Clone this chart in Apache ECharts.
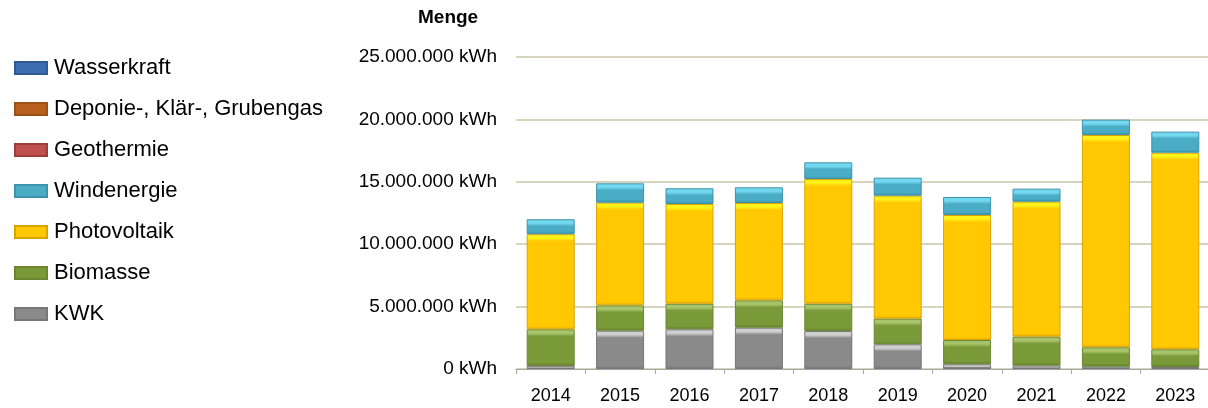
<!DOCTYPE html>
<html>
<head>
<meta charset="utf-8">
<script src="https://cdn.jsdelivr.net/npm/echarts@6/dist/echarts.min.js"></script>
<style>
  html, body { margin: 0; padding: 0; background: #fff; }
  #chartContainer { width: 1208px; height: 408px; }
</style>
</head>
<body>
<div id="chartContainer"></div>
<script>
// years on the x axis
var years = ['2014', '2015', '2016', '2017', '2018', '2019', '2020', '2021', '2022', '2023'];

// amounts per source in kWh
var kwk = [250000, 3070000, 3180000, 3310000, 3040000, 1980000, 380000, 270000, 180000, 160000];
var biomasse = [2930000, 2030000, 2050000, 2190000, 2190000, 2050000, 1940000, 2320000, 1560000, 1420000];
var photovoltaik = [7620000, 8230000, 7990000, 7800000, 9990000, 9860000, 10020000, 10820000, 17010000, 15750000];
var windenergie = [1200000, 1550000, 1260000, 1260000, 1340000, 1440000, 1440000, 1040000, 1230000, 1690000];
var geothermie = [0, 0, 0, 0, 0, 0, 0, 0, 0, 0];
var deponie = [0, 0, 0, 0, 0, 0, 0, 0, 0, 0];
var wasserkraft = [0, 0, 0, 0, 0, 0, 0, 0, 0, 0];

// legend order top to bottom
var legendOrder = ['Wasserkraft', 'Deponie-, Klär-, Grubengas', 'Geothermie', 'Windenergie', 'Photovoltaik', 'Biomasse', 'KWK'];

var FONT = 'Liberation Sans, Arial, sans-serif';
var Y_MAX = 25000000;
var PLOT_H = 312;

// bevel look: light band (about 5px) on top, main colour, darker at bottom
function bevel(light, main, dark, value) {
    var px = Math.max(value / Y_MAX * PLOT_H, 1);
    var band = Math.min(4 / px, 0.45);
    var fade = Math.min(7 / px, 0.6);
    var bottom = Math.max(1 - 3 / px, fade);
    return {
        type: 'linear', x: 0, y: 0, x2: 0, y2: 1,
        colorStops: [
            { offset: 0, color: light },
            { offset: band, color: light },
            { offset: fade, color: main },
            { offset: bottom, color: main },
            { offset: 1, color: dark }
        ]
    };
}

function makeSeries(name, data, light, main, dark, border) {
    return {
        name: name,
        type: 'bar',
        stack: 'total',
        barWidth: 48,
        data: data.map(function (v) {
            // zero-height segments get no border so no stray line sits on top of the bars
            var st = { color: bevel(light, main, dark, v) };
            if (v === 0) st.borderWidth = 0;
            return { value: v, itemStyle: st };
        }),
        itemStyle: {
            color: main,
            borderColor: border,
            borderWidth: 1
        },
        emphasis: { disabled: true }
    };
}

function formatKwh(v) {
    var s = String(v).replace(/\B(?=(\d{3})+(?!\d))/g, '.');
    return s + ' kWh';
}

var chartDom = document.getElementById('chartContainer');
var myChart = echarts.init(chartDom);

var option = {
    animation: false,
    title: {
        text: 'Menge',
        left: 418,
        top: 8,
        padding: 0,
        textStyle: { fontFamily: FONT, fontSize: 19, fontWeight: 'bold', color: '#000' }
    },
    legend: {
        data: legendOrder,
        orient: 'vertical',
        left: 14,
        top: 57,
        padding: 0,
        itemWidth: 32,
        itemHeight: 12,
        itemGap: 19,
        icon: 'rect',
        selectedMode: false,
        textStyle: { fontFamily: FONT, fontSize: 22, color: '#000', lineHeight: 22, padding: [0, 0, 0, 2] }
    },
    grid: {
        left: 516,
        top: 57,
        width: 694,
        height: PLOT_H,
        outerBoundsMode: 'none',
        containLabel: false
    },
    xAxis: {
        type: 'category',
        data: years,
        axisLine: { lineStyle: { color: '#A6A6A6', width: 1 } },
        axisTick: { show: true, length: 5, lineStyle: { color: '#A6A6A6' } },
        axisLabel: { fontFamily: FONT, fontSize: 18, color: '#000', margin: 18 }
    },
    yAxis: {
        type: 'value',
        min: 0,
        max: Y_MAX,
        interval: 5000000,
        axisLine: { show: false },
        axisTick: { show: false },
        axisLabel: { fontFamily: FONT, fontSize: 19, color: '#000', margin: 19, formatter: formatKwh },
        splitLine: { lineStyle: { color: '#D8D3BC', width: 2 } }
    },
    series: [
        makeSeries('KWK', kwk, '#CFCFCF', '#8A8A8A', '#6E6E6E', '#767676'),
        makeSeries('Biomasse', biomasse, '#A8C46A', '#7A9A3A', '#5F7A2A', '#6A8632'),
        makeSeries('Photovoltaik', photovoltaik, '#FFF21A', '#FFC800', '#E8A800', '#D9A400'),
        makeSeries('Windenergie', windenergie, '#74D8F0', '#4BACC6', '#3A8FA8', '#3C93AB'),
        makeSeries('Geothermie', geothermie, '#E08A88', '#C0504D', '#A03C3A', '#9E3E3B'),
        makeSeries('Deponie-, Klär-, Grubengas', deponie, '#E39A5A', '#B8601F', '#964C15', '#9A5218'),
        makeSeries('Wasserkraft', wasserkraft, '#7FA6DA', '#3C6DB0', '#2E5690', '#2F5A94')
    ]
};

myChart.setOption(option);
</script>
</body>
</html>
